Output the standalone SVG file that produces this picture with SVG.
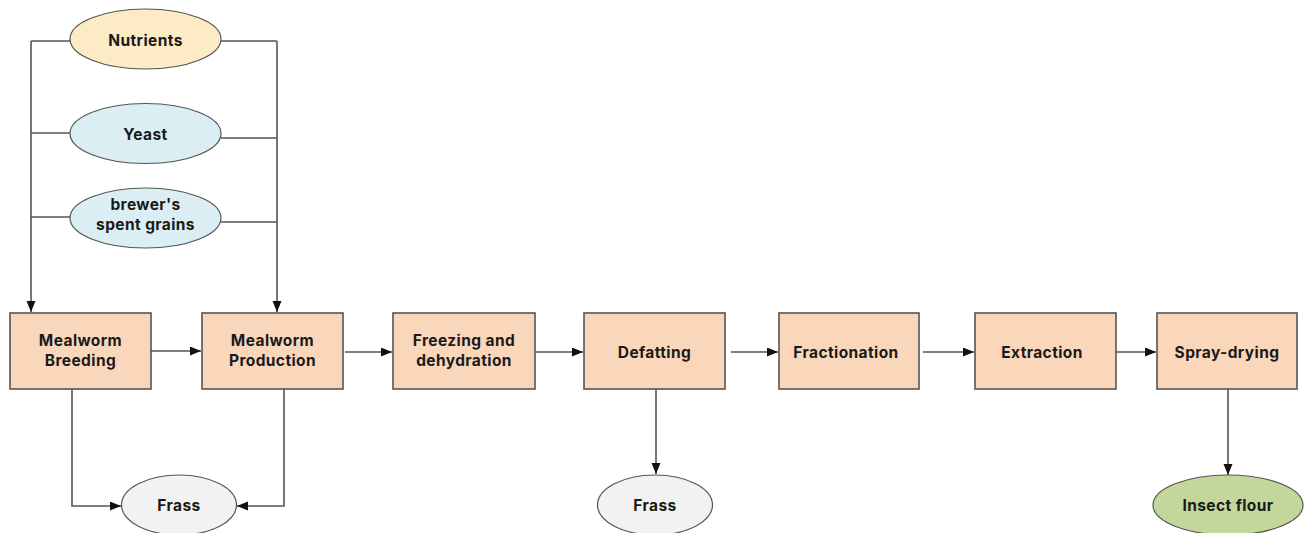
<svg xmlns="http://www.w3.org/2000/svg" width="1305" height="533" viewBox="0 0 1305 533">
  <defs>
    <marker id="arrow" markerUnits="userSpaceOnUse" markerWidth="12" markerHeight="10" refX="11" refY="4.5" orient="auto">
      <path d="M0,0 L11,4.5 L0,9 z" fill="#111"/>
    </marker>
    <style>
      .box { fill: #fad7ba; stroke: #555; stroke-width: 1.6; }
      .input { stroke: #555; stroke-width: 1.2; }
      .nut { fill: #fdebc6; }
      .feed { fill: #dbeef4; }
      .frass { fill: #f2f2f2; stroke: #555; stroke-width: 1.2; }
      .flour { fill: #c4d79b; stroke: #555; stroke-width: 1.2; }
      .lbl { font-family: Inter, "Open Sans", "Liberation Sans", sans-serif; font-weight: bold; font-size: 15.5px; letter-spacing: 0.4px; fill: #1a1a1a; text-anchor: middle; }
      .line { fill: none; stroke: #555; stroke-width: 1.6; }
      .flow { fill: none; stroke: #555; stroke-width: 1.6; marker-end: url(#arrow); }
    </style>
  </defs>

  <!-- connectors -->
  <g id="connectors">
    <!-- left feed bus -->
    <path class="line" d="M70,41 H31 M70,133 H31 M70,217 H31"/>
    <path class="flow" d="M31,41 V312"/>
    <!-- right feed bus -->
    <path class="line" d="M221,41 H277 M221,138 H277 M221,222 H277"/>
    <path class="flow" d="M277,41 V312"/>
    <!-- main process chain -->
    <path class="flow" d="M151,351 H201"/>
    <path class="flow" d="M345,352 H392"/>
    <path class="flow" d="M536,352 H583"/>
    <path class="flow" d="M731,352 H778"/>
    <path class="flow" d="M923,352 H974"/>
    <path class="flow" d="M1116,352 H1156"/>
    <!-- by-products -->
    <path class="flow" d="M72,389 V506 H121"/>
    <path class="flow" d="M284,389 V506 H237"/>
    <path class="flow" d="M656,389 V474"/>
    <path class="flow" d="M1228,389 V475"/>
  </g>

  <!-- feed inputs -->
  <g id="nutrients">
    <ellipse class="input nut" cx="145.5" cy="39" rx="75.5" ry="30"/>
    <text class="lbl" x="145.5" y="46">Nutrients</text>
  </g>
  <g id="yeast">
    <ellipse class="input feed" cx="145.5" cy="133.5" rx="75.5" ry="30"/>
    <text class="lbl" x="145.5" y="139.5">Yeast</text>
  </g>
  <g id="spent-grains">
    <ellipse class="input feed" cx="145.5" cy="218" rx="75.5" ry="30"/>
    <text class="lbl" x="145.5" y="210">brewer's</text>
    <text class="lbl" x="145.5" y="229.5">spent grains</text>
  </g>

  <!-- process steps -->
  <g id="breeding">
    <rect class="box" x="10" y="313" width="141" height="76"/>
    <text class="lbl" x="80.5" y="346">Mealworm</text>
    <text class="lbl" x="80.5" y="365.5">Breeding</text>
  </g>
  <g id="production">
    <rect class="box" x="202" y="313" width="141" height="76"/>
    <text class="lbl" x="272.5" y="346">Mealworm</text>
    <text class="lbl" x="272.5" y="365.5">Production</text>
  </g>
  <g id="freezing">
    <rect class="box" x="393" y="313" width="142" height="76"/>
    <text class="lbl" x="464" y="346">Freezing and</text>
    <text class="lbl" x="464" y="365.5">dehydration</text>
  </g>
  <g id="defatting">
    <rect class="box" x="584" y="313" width="141" height="76"/>
    <text class="lbl" x="654.5" y="357.5">Defatting</text>
  </g>
  <g id="fractionation">
    <rect class="box" x="779" y="313" width="140" height="76"/>
    <text class="lbl" x="846" y="357.5">Fractionation</text>
  </g>
  <g id="extraction">
    <rect class="box" x="975" y="313" width="141" height="76"/>
    <text class="lbl" x="1042" y="357.5">Extraction</text>
  </g>
  <g id="spray-drying">
    <rect class="box" x="1157" y="313" width="140" height="76"/>
    <text class="lbl" x="1227" y="357.5">Spray-drying</text>
  </g>

  <!-- outputs -->
  <g id="frass-1">
    <ellipse class="frass" cx="179" cy="505" rx="57.5" ry="30"/>
    <text class="lbl" x="179" y="511">Frass</text>
  </g>
  <g id="frass-2">
    <ellipse class="frass" cx="655" cy="505" rx="57.5" ry="30"/>
    <text class="lbl" x="655" y="511">Frass</text>
  </g>
  <g id="insect-flour">
    <ellipse class="flour" cx="1228" cy="505" rx="75" ry="30"/>
    <text class="lbl" x="1228" y="511">Insect flour</text>
  </g>
</svg>
